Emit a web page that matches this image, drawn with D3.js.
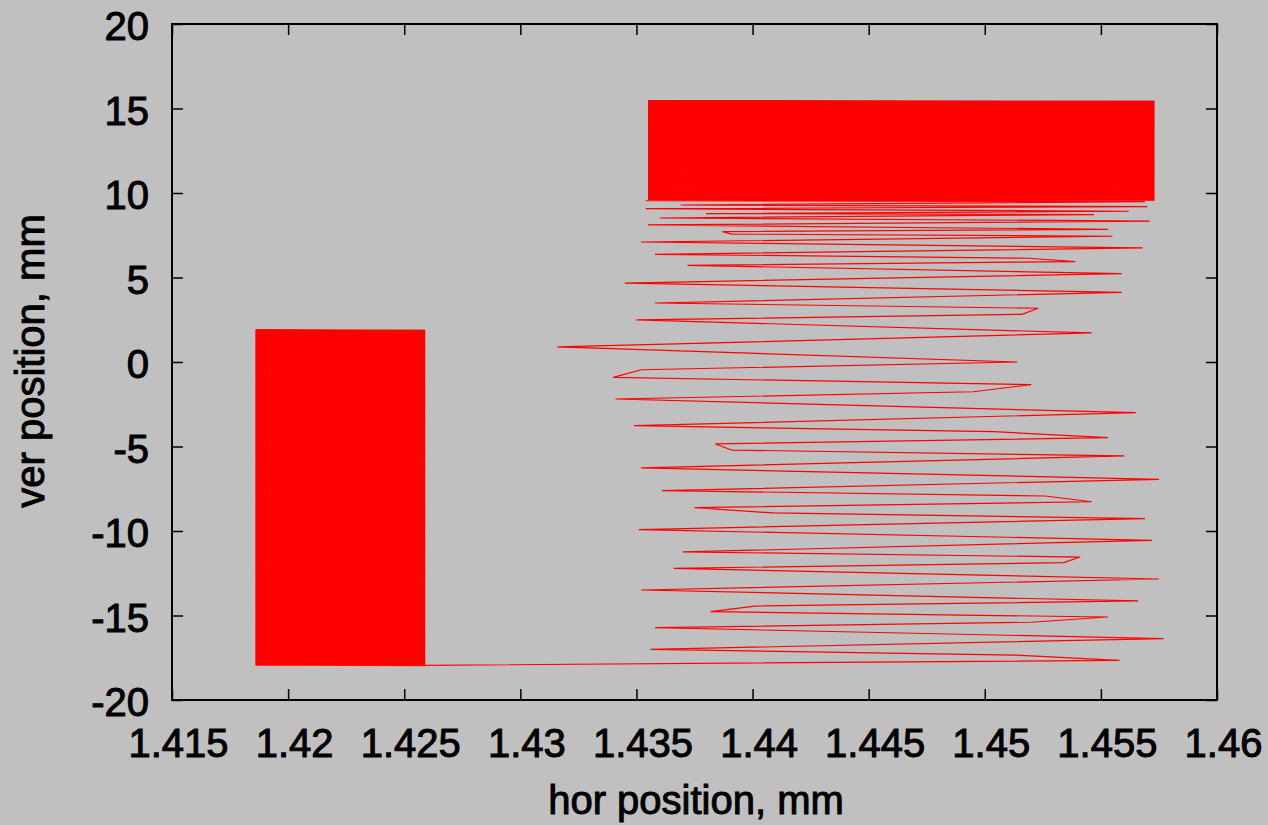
<!DOCTYPE html>
<html>
<head>
<meta charset="utf-8">
<script src="https://cdn.jsdelivr.net/npm/d3@7"></script>
<style>
  html, body { margin: 0; padding: 0; background: #c0c0c0; }
  svg { display: block; }
  text { font-family: "Liberation Sans", Arial, sans-serif; fill: #000; }
</style>
</head>
<body>
<svg id="chart" width="1268" height="825"></svg>
<script>
// Axis ticks and labels
const xTicks = [1.415, 1.42, 1.425, 1.43, 1.435, 1.44, 1.445, 1.45, 1.455, 1.46];
const xTickLabels = ["1.415", "1.42", "1.425", "1.43", "1.435", "1.44", "1.445", "1.45", "1.455", "1.46"];
const yTicks = [-20, -15, -10, -5, 0, 5, 10, 15, 20];
const yTickLabels = ["-20", "-15", "-10", "-5", "0", "5", "10", "15", "20"];

// Upper raster patch: turning points alternate between its left and right edge (mm)
const upperScanEdges = [1.4355, 1.4573];
const upperScanY = [
  15.45, 15.4, 15.35, 15.3, 15.25, 15.2, 15.15, 15.1, 15.05, 15,
  14.95, 14.9, 14.85, 14.8, 14.75, 14.7, 14.65, 14.6, 14.55, 14.5, 14.45, 14.4, 14.35, 14.3, 14.25, 14.2, 14.15, 14.1, 14.05, 14,
  13.95, 13.9, 13.85, 13.8, 13.75, 13.7, 13.65, 13.6, 13.55, 13.5, 13.45, 13.4, 13.35, 13.3, 13.25, 13.2, 13.15, 13.1, 13.05, 13,
  12.95, 12.9, 12.85, 12.8, 12.75, 12.7, 12.65, 12.6, 12.55, 12.5, 12.45, 12.4, 12.35, 12.3, 12.25, 12.2, 12.15, 12.1, 12.05, 12,
  11.95, 11.9, 11.85, 11.8, 11.75, 11.7, 11.65, 11.6, 11.55, 11.5, 11.45, 11.4, 11.35, 11.3, 11.25, 11.2, 11.15, 11.1, 11.05, 11,
  10.95, 10.9, 10.85, 10.8, 10.75, 10.7, 10.65, 10.6, 10.55, 10.5, 10.45, 10.4, 10.35, 10.3, 10.25, 10.2, 10.15, 10.1, 10.05, 10,
  9.95, 9.9, 9.85, 9.8, 9.75, 9.7, 9.65, 9.6
];

// Sparse zig-zag descending from the upper patch to the lower one (mm)
const transitX = [
  1.4354, 1.4569, 1.4369, 1.4570, 1.4354, 1.4562, 1.4380, 1.4547, 1.4360, 1.4571,
  1.4355, 1.4553, 1.4387, 1.4391, 1.4555, 1.4352, 1.4568, 1.4358, 1.4519, 1.4539,
  1.4372, 1.4559, 1.4345, 1.4559, 1.4358, 1.4523, 1.4516, 1.4350, 1.4546, 1.4316,
  1.4514, 1.4352, 1.4340, 1.4520, 1.4495, 1.4341, 1.4565, 1.4349, 1.4504, 1.4553,
  1.4384, 1.4391, 1.4560, 1.4352, 1.4575, 1.4361, 1.4526, 1.4546, 1.4375, 1.4409,
  1.4569, 1.4351, 1.4572, 1.4370, 1.4541, 1.4534, 1.4366, 1.4575, 1.4352, 1.4566,
  1.4401, 1.4382, 1.4553, 1.4520, 1.4358, 1.4577, 1.4356, 1.4513, 1.4558
];
const transitY = [
  9.54, 9.49, 9.29, 9.19, 9.07, 8.92, 8.78, 8.72, 8.52, 8.34,
  8.11, 7.85, 7.71, 7.57, 7.44, 7.10, 6.75, 6.37, 6.14, 5.94,
  5.72, 5.23, 4.67, 4.12, 3.49, 3.18, 2.82, 2.49, 1.72, 0.89,
  0.00, -0.46, -0.91, -1.34, -1.76, -2.19, -3.00, -3.77, -4.12, -4.48,
  -4.85, -5.21, -5.56, -6.27, -6.94, -7.61, -7.93, -8.27, -8.62, -8.93,
  -9.27, -9.92, -10.55, -11.24, -11.54, -11.87, -12.21, -12.84, -13.49, -14.14,
  -14.44, -14.77, -15.09, -15.40, -15.72, -16.37, -17.00, -17.34, -17.65
];

// Lower raster patch, scanned upward: turning points alternate right / left edge (mm)
const lowerScanEdges = [1.4259, 1.4186];
const lowerScanY = [
  -17.95, -17.9, -17.85, -17.8, -17.75, -17.7, -17.65, -17.6, -17.55, -17.5, -17.45, -17.4, -17.35, -17.3, -17.25, -17.2, -17.15, -17.1, -17.05, -17,
  -16.95, -16.9, -16.85, -16.8, -16.75, -16.7, -16.65, -16.6, -16.55, -16.5, -16.45, -16.4, -16.35, -16.3, -16.25, -16.2, -16.15, -16.1, -16.05, -16,
  -15.95, -15.9, -15.85, -15.8, -15.75, -15.7, -15.65, -15.6, -15.55, -15.5, -15.45, -15.4, -15.35, -15.3, -15.25, -15.2, -15.15, -15.1, -15.05, -15,
  -14.95, -14.9, -14.85, -14.8, -14.75, -14.7, -14.65, -14.6, -14.55, -14.5, -14.45, -14.4, -14.35, -14.3, -14.25, -14.2, -14.15, -14.1, -14.05, -14,
  -13.95, -13.9, -13.85, -13.8, -13.75, -13.7, -13.65, -13.6, -13.55, -13.5, -13.45, -13.4, -13.35, -13.3, -13.25, -13.2, -13.15, -13.1, -13.05, -13,
  -12.95, -12.9, -12.85, -12.8, -12.75, -12.7, -12.65, -12.6, -12.55, -12.5, -12.45, -12.4, -12.35, -12.3, -12.25, -12.2, -12.15, -12.1, -12.05, -12,
  -11.95, -11.9, -11.85, -11.8, -11.75, -11.7, -11.65, -11.6, -11.55, -11.5, -11.45, -11.4, -11.35, -11.3, -11.25, -11.2, -11.15, -11.1, -11.05, -11,
  -10.95, -10.9, -10.85, -10.8, -10.75, -10.7, -10.65, -10.6, -10.55, -10.5, -10.45, -10.4, -10.35, -10.3, -10.25, -10.2, -10.15, -10.1, -10.05, -10,
  -9.95, -9.9, -9.85, -9.8, -9.75, -9.7, -9.65, -9.6, -9.55, -9.5, -9.45, -9.4, -9.35, -9.3, -9.25, -9.2, -9.15, -9.1, -9.05, -9,
  -8.95, -8.9, -8.85, -8.8, -8.75, -8.7, -8.65, -8.6, -8.55, -8.5, -8.45, -8.4, -8.35, -8.3, -8.25, -8.2, -8.15, -8.1, -8.05, -8,
  -7.95, -7.9, -7.85, -7.8, -7.75, -7.7, -7.65, -7.6, -7.55, -7.5, -7.45, -7.4, -7.35, -7.3, -7.25, -7.2, -7.15, -7.1, -7.05, -7,
  -6.95, -6.9, -6.85, -6.8, -6.75, -6.7, -6.65, -6.6, -6.55, -6.5, -6.45, -6.4, -6.35, -6.3, -6.25, -6.2, -6.15, -6.1, -6.05, -6,
  -5.95, -5.9, -5.85, -5.8, -5.75, -5.7, -5.65, -5.6, -5.55, -5.5, -5.45, -5.4, -5.35, -5.3, -5.25, -5.2, -5.15, -5.1, -5.05, -5,
  -4.95, -4.9, -4.85, -4.8, -4.75, -4.7, -4.65, -4.6, -4.55, -4.5, -4.45, -4.4, -4.35, -4.3, -4.25, -4.2, -4.15, -4.1, -4.05, -4,
  -3.95, -3.9, -3.85, -3.8, -3.75, -3.7, -3.65, -3.6, -3.55, -3.5, -3.45, -3.4, -3.35, -3.3, -3.25, -3.2, -3.15, -3.1, -3.05, -3,
  -2.95, -2.9, -2.85, -2.8, -2.75, -2.7, -2.65, -2.6, -2.55, -2.5, -2.45, -2.4, -2.35, -2.3, -2.25, -2.2, -2.15, -2.1, -2.05, -2,
  -1.95, -1.9, -1.85, -1.8, -1.75, -1.7, -1.65, -1.6, -1.55, -1.5, -1.45, -1.4, -1.35, -1.3, -1.25, -1.2, -1.15, -1.1, -1.05, -1,
  -0.95, -0.9, -0.85, -0.8, -0.75, -0.7, -0.65, -0.6, -0.55, -0.5, -0.45, -0.4, -0.35, -0.3, -0.25, -0.2, -0.15, -0.1, -0.05, 0,
  0.05, 0.1, 0.15, 0.2, 0.25, 0.3, 0.35, 0.4, 0.45, 0.5, 0.55, 0.6, 0.65, 0.7, 0.75, 0.8, 0.85, 0.9, 0.95, 1,
  1.05, 1.1, 1.15, 1.2, 1.25, 1.3, 1.35, 1.4, 1.45, 1.5, 1.55, 1.6, 1.65, 1.7, 1.75, 1.8, 1.85, 1.9
];

// ---- layout ----
const plot = { left: 172, right: 1217, top: 24, bottom: 700 };
const fontSize = 40;

const svg = d3.select("#chart");

const x = d3.scaleLinear().domain([1.415, 1.46]).range([plot.left, plot.right]);
const y = d3.scaleLinear().domain([-20, 20]).range([plot.bottom, plot.top]);

// beam path in three pieces: upper patch -> transit -> lower patch
const upperPts = upperScanY.map((v, i) => [upperScanEdges[i % 2], v]);
const transitPts = [];
const nT = Math.min(transitX.length, transitY.length);
for (let i = 0; i < nT; i++) transitPts.push([transitX[i], transitY[i]]);
const lowerPts = lowerScanY.map((v, i) => [lowerScanEdges[i % 2], v]);

// join the pieces so the trace stays continuous
const transitFull = [upperPts[upperPts.length - 1], ...transitPts, lowerPts[0]];

// dense patches: one segment per sweep so every sweep is painted on its own
const sweeps = pts => d3.pairs(pts);

svg.append("path")
  .datum(transitFull)
  .attr("d", d3.line().x(d => x(d[0])).y(d => y(d[1])))
  .attr("fill", "none")
  .attr("stroke", "#ff0000")
  .attr("stroke-width", 1.2)
  .attr("stroke-linejoin", "bevel");

svg.append("g")
  .attr("stroke", "#ff0000")
  .attr("stroke-width", 2)
  .selectAll("line")
  .data([...sweeps(upperPts), ...sweeps(lowerPts)])
  .join("line")
  .attr("x1", d => x(d[0][0])).attr("y1", d => y(d[0][1]))
  .attr("x2", d => x(d[1][0])).attr("y2", d => y(d[1][1]));

// ---- axes ----
const tickLen = 11;

const gx = svg.append("g")
  .attr("transform", `translate(0,${plot.bottom})`)
  .call(d3.axisBottom(x).tickValues(xTicks).tickSize(-tickLen).tickSizeOuter(0)
        .tickPadding(28.6).tickFormat((d, i) => xTickLabels[i]));
gx.selectAll("text").attr("x", 6);

const gxTop = svg.append("g")
  .attr("transform", `translate(0,${plot.top})`)
  .call(d3.axisTop(x).tickValues(xTicks).tickSize(-tickLen).tickSizeOuter(0).tickFormat(""));

const gy = svg.append("g")
  .attr("transform", `translate(${plot.left},0)`)
  .call(d3.axisLeft(y).tickValues(yTicks).tickSize(-tickLen).tickSizeOuter(0)
        .tickPadding(23).tickFormat((d, i) => yTickLabels[i]));
gy.selectAll("text").attr("dy", null).attr("y", 15.5);

const gyRight = svg.append("g")
  .attr("transform", `translate(${plot.right},0)`)
  .call(d3.axisRight(y).tickValues(yTicks).tickSize(-tickLen).tickSizeOuter(0).tickFormat(""));

[gx, gxTop, gy, gyRight].forEach(g => {
  g.select(".domain").remove();
  g.selectAll(".tick line").attr("stroke", "#000").attr("stroke-width", 1.5);
  g.selectAll("text")
    .attr("font-family", "'Liberation Sans', Arial, sans-serif")
    .attr("font-size", fontSize)
    .attr("fill", "#000")
    .attr("stroke", "#000")
    .attr("stroke-width", 1);
});

// frame
svg.append("rect")
  .attr("x", plot.left).attr("y", plot.top)
  .attr("width", plot.right - plot.left).attr("height", plot.bottom - plot.top)
  .attr("fill", "none").attr("stroke", "#000").attr("stroke-width", 2);

// axis titles
svg.append("text")
  .attr("x", 696).attr("y", 814)
  .attr("text-anchor", "middle")
  .attr("font-size", fontSize)
  .attr("stroke", "#000").attr("stroke-width", 1)
  .text("hor position, mm");

svg.append("text")
  .attr("transform", "translate(43.5,361) rotate(-90)")
  .attr("text-anchor", "middle")
  .attr("font-size", fontSize)
  .attr("stroke", "#000").attr("stroke-width", 1)
  .text("ver position, mm");
</script>
</body>
</html>
